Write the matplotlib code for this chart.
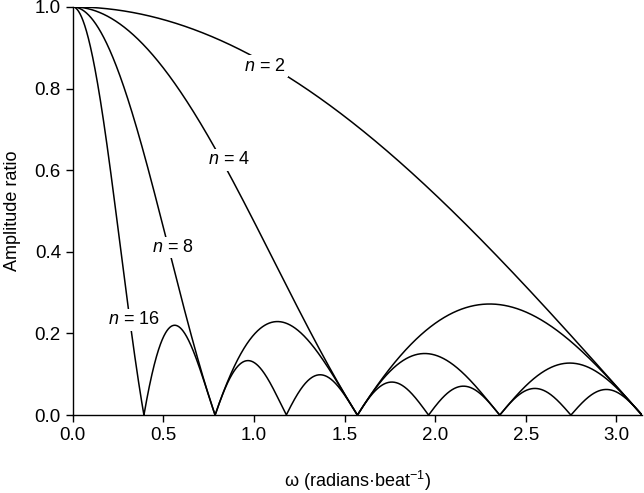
import numpy as np
import matplotlib.pyplot as plt

plt.rcParams['font.family'] = ['Liberation Sans', 'DejaVu Sans']
plt.rcParams['mathtext.fontset'] = 'custom'
plt.rcParams['mathtext.rm'] = 'Liberation Sans'
plt.rcParams['mathtext.it'] = 'Liberation Sans:italic'

# number of beats averaged (one curve each)
n_values = [2, 4, 8, 16]
# where each curve's label sits (omega, amplitude)
label_x = [1.06, 0.86, 0.55, 0.34]
label_y = [0.855, 0.625, 0.41, 0.233]

omega = np.linspace(1e-6, np.pi, 2000)

fig = plt.figure(figsize=(6.44, 4.93), dpi=100)
ax = fig.add_axes([0.113, 0.158, 0.884, 0.828])

for n, lx, ly in zip(n_values, label_x, label_y):
    # amplitude response of an n-beat moving average
    amp = np.abs(np.sin(n * omega / 2) / (n * np.sin(omega / 2)))
    ax.plot(omega, amp, color='black', lw=1.1, zorder=2)
    ax.text(lx, ly, f'$n$ = {n}', fontsize=13, ha='center', va='center',
            bbox=dict(facecolor='white', edgecolor='none', pad=1.5), zorder=3)

ax.set_xlim(0, np.pi)
ax.set_ylim(0, 1.0)
ax.set_xticks(np.arange(0, 3.01, 0.5))
ax.set_yticks(np.arange(0, 1.01, 0.2))
ax.xaxis.set_major_formatter(plt.FormatStrFormatter('%.1f'))
ax.yaxis.set_major_formatter(plt.FormatStrFormatter('%.1f'))
ax.tick_params(direction='out', length=5, width=1, labelsize=13.5)
for side in ['top', 'right']:
    ax.spines[side].set_visible(False)
for side in ['left', 'bottom']:
    ax.spines[side].set_linewidth(1)

ax.set_xlabel('ω (radians·beat$^{-1}$)', fontsize=13, labelpad=18)
ax.set_ylabel('Amplitude ratio', fontsize=13, labelpad=10)

fig.savefig('out.png', dpi=100)
